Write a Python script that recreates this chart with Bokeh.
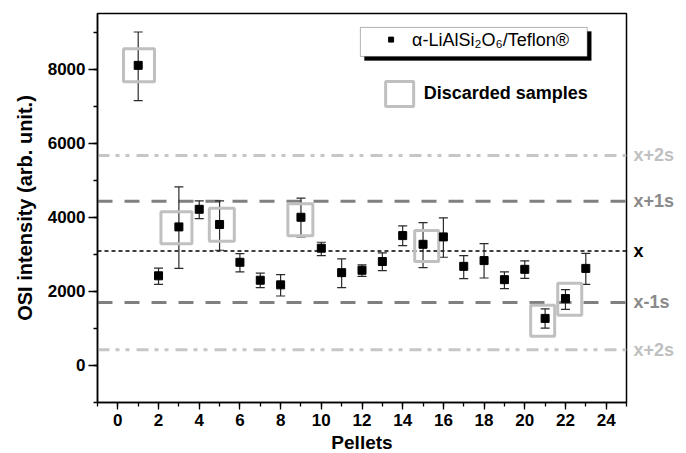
from bokeh.plotting import figure
from bokeh.layouts import row
from bokeh.models import (Range1d, FixedTicker, Whisker, TeeHead, ColumnDataSource,
                          Span, Label, BoxAnnotation)
from bokeh.core.properties import value
from bokeh.embed import file_html
from bokeh.resources import INLINE

# ---- data ----
pellets = list(range(1, 24))
osi = [8100, 2420, 3740, 4215, 3805, 2785, 2300, 2175, 4000, 3165, 2505, 2570,
       2805, 3505, 3270, 3470, 2675, 2830, 2315, 2595, 1270, 1805, 2620]
err_upper = [9000, 2625, 4820, 4445, 4445, 3020, 2490, 2450, 4515, 3325, 2875, 2715,
             3040, 3765, 3855, 3985, 2965, 3290, 2525, 2825, 1525, 2045, 3025]
err_lower = [7150, 2190, 2620, 3965, 3110, 2525, 2100, 1875, 3470, 2965, 2100, 2405,
             2560, 3235, 2640, 2920, 2345, 2360, 2075, 2350, 1010, 1515, 2190]

discarded_x = [1.04, 2.88, 5.11, 8.97, 15.18, 20.88, 22.21]
discarded_y = [8100, 3716, 3797, 3930, 3227, 1208, 1789]
discarded_w = [31, 31, 25, 25, 24, 24, 24]
discarded_h = [33, 32, 33, 32, 31, 31, 32]

ref_levels = [5670, 4435, 3090, 1700, 425]
ref_labels = ["x+2s", "x+1s", "x", "x-1s", "x+2s"]
ref_colors = ["#c6c6c6", "#808080", "#000000", "#808080", "#c6c6c6"]
ref_label_colors = ["#c0c0c0", "#8a8a8a", "#000000", "#8a8a8a", "#c0c0c0"]
ref_dash = ["12 6 4 6 4 7", "15 12", "4 3", "15 12", "12 6 4 6 4 7"]
ref_width = [3, 3, 1.3, 3, 3]

x_ticks = list(range(0, 25, 2))
x_minor = list(range(-1, 26))
y_ticks = [0, 2000, 4000, 6000, 8000]
y_minor = list(range(-1000, 9501, 1000))

FONT = "Liberation Sans"
TOP, FRAME_H, BOTTOM = 13, 389, 51

p = figure(frame_width=529, frame_height=FRAME_H, output_backend="svg",
           toolbar_location=None,
           x_range=Range1d(-1, 25), y_range=Range1d(-1000, 9500),
           min_border_left=97, min_border_right=2, min_border_top=TOP,
           min_border_bottom=BOTTOM)
p.xgrid.visible = False
p.ygrid.visible = False
p.outline_line_color = "black"
p.outline_line_width = 1.5
p.background_fill_color = "white"

for ax in (p.xaxis[0], p.yaxis[0]):
    ax.axis_line_width = 1.5
    ax.axis_line_color = "black"
    ax.major_tick_line_color = "black"
    ax.minor_tick_line_color = "black"
    ax.major_tick_line_width = 1.3
    ax.minor_tick_line_width = 1.3
    ax.major_tick_in = 0
    ax.minor_tick_in = 0
    ax.major_label_text_font = FONT
    ax.major_label_text_font_style = "bold"
    ax.major_label_text_font_size = "17px"
    ax.major_label_text_color = "black"
    ax.axis_label_text_font = FONT
    ax.axis_label_text_font_style = "bold"
    ax.axis_label_text_color = "black"

p.xaxis.ticker = FixedTicker(ticks=x_ticks, minor_ticks=x_minor)
p.yaxis.ticker = FixedTicker(ticks=y_ticks, minor_ticks=y_minor)
p.xaxis.major_tick_out = 7
p.xaxis.minor_tick_out = 4
p.yaxis.major_tick_out = 9
p.yaxis.minor_tick_out = 4
p.xaxis.major_label_standoff = 4
p.yaxis.major_label_standoff = 3
p.xaxis.axis_label = "Pellets"
p.yaxis.axis_label = "OSI intensity (arb. unit.)"
p.xaxis.axis_label_text_font_size = "19px"
p.yaxis.axis_label_text_font_size = "20px"
p.xaxis.axis_label_standoff = 3
p.yaxis.axis_label_standoff = 9

# reference lines
for lvl, col, dash, lw in zip(ref_levels, ref_colors, ref_dash, ref_width):
    p.add_layout(Span(location=lvl, dimension="width", line_color=col,
                      line_dash=dash, line_width=lw, level="underlay"))

# legend frame with shadow
p.add_layout(BoxAnnotation(left=12.12, right=23.27, top=9016, bottom=8233,
                           fill_color="black", fill_alpha=1, line_color="black",
                           level="underlay"))
p.add_layout(BoxAnnotation(left=11.92, right=23.07, top=9124, bottom=8341,
                           fill_color="white", fill_alpha=1, line_color="black",
                           line_width=1, level="underlay"))

# discarded boxes
dsrc = ColumnDataSource(dict(x=discarded_x, y=discarded_y, w=discarded_w, h=discarded_h))
p.rect("x", "y", width="w", height="h", width_units="screen", height_units="screen",
       source=dsrc, fill_alpha=0, line_color="#c0c0c0", line_width=3)

# error bars
src = ColumnDataSource(dict(x=pellets, y=osi, upper=err_upper, lower=err_lower))
p.add_layout(Whisker(source=src, base="x", upper="upper", lower="lower",
                     line_color="#2a2a2a", line_width=1.2,
                     upper_head=TeeHead(size=9, line_color="#2a2a2a", line_width=1.2),
                     lower_head=TeeHead(size=9, line_color="#2a2a2a", line_width=1.2)))

p.scatter("x", "y", source=src, marker="square", size=8, fill_color="black",
          line_color="black")

# legend contents
p.scatter([13.43], [8795], marker="square", size=5, fill_color="black", line_color="black")
p.add_layout(Label(x=14.46, y=8795, text="α-LiAlSi₂O₆/Teflon®", text_baseline="middle",
                   text_font=FONT, text_font_size="18px", text_color="black"))
p.rect([13.85], [7330], width=28, height=25, width_units="screen", height_units="screen",
       fill_alpha=0, line_color="#c0c0c0", line_width=3)
p.add_layout(Label(x=15.03, y=7351, text="Discarded samples", text_baseline="middle",
                   text_font=FONT, text_font_style="bold", text_font_size="18px",
                   text_color="black"))

# side panel with the reference-line labels (shares the y scale)
q = figure(frame_width=58, frame_height=FRAME_H, output_backend="svg",
           toolbar_location=None, x_range=Range1d(0, 1), y_range=p.y_range,
           min_border_left=0, min_border_right=0, min_border_top=TOP,
           min_border_bottom=BOTTOM)
q.axis.visible = False
q.grid.visible = False
q.outline_line_color = None
lsrc = ColumnDataSource(dict(x=[0] * len(ref_levels), y=ref_levels, t=ref_labels,
                             c=ref_label_colors))
q.text("x", "y", text="t", source=lsrc, text_color="c", x_offset=5,
       text_baseline=value("middle"), text_align=value("left"),
       text_font=value(FONT), text_font_style=value("bold"),
       text_font_size=value("18px"))

layout = row(p, q, spacing=0)
open("out.html", "w").write(file_html(layout, INLINE))
